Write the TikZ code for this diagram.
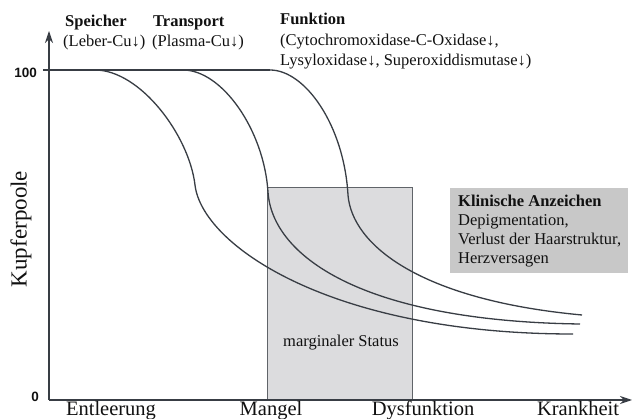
\documentclass[tikz,border=0pt]{standalone}
\usepackage{fontspec}
\setmainfont{Liberation Serif}
\newfontfamily\numfont{Liberation Sans}
\usetikzlibrary{arrows.meta}
\definecolor{ink}{HTML}{111111}
\definecolor{curve}{HTML}{383D44}
\definecolor{boxfill}{HTML}{DCDCDE}
\definecolor{clinfill}{HTML}{C8C8C8}
\begin{document}
\begin{tikzpicture}[x=1pt,y=-1pt,
  txt/.style={font=\fontsize{16.5}{20}\selectfont, inner sep=0pt, text=ink, anchor=base west},
  txtb/.style={txt, font=\fontsize{16.5}{20}\selectfont\bfseries},
  axislbl/.style={font=\fontsize{20.5}{24}\selectfont, inner sep=0pt, text=ink, anchor=base},
  ticklbl/.style={font=\fontsize{13.5}{16}\selectfont\numfont\bfseries, inner sep=0pt, text=ink, anchor=base east},
  axisline/.style={draw=curve, line width=1.2pt},
  curveline/.style={draw=curve, line width=1.3pt},
]
\useasboundingbox (0,0) rectangle (632,419);
\fill[white] (0,0) rectangle (632,419);

% shaded region of the marginal status
\node[draw=curve!80, line width=0.8pt, fill=boxfill, minimum width=145pt, minimum height=213pt,
      inner sep=0pt, anchor=north west] (marg) at (267,187) {};
\node[txt, anchor=base] (margtxt) at (341,347) {marginaler Status};

% box with clinical signs
\node[fill=clinfill, minimum width=178pt, minimum height=85pt, inner sep=0pt, anchor=north west] (clin) at (450,188) {};
\node[txtb] (clin1) at (458,206.5) {Klinische Anzeichen};
\node[txt]  (clin2) at (458,225.5) {Depigmentation,};
\node[txt]  (clin3) at (458,244.5) {Verlust der Haarstruktur,};
\node[txt]  (clin4) at (458,263.5) {Herzversagen};

% axes
\coordinate (origin) at (49,400);
\coordinate (ytip) at (49,31);
\coordinate (xtip) at (632,400);
\coordinate (full) at (43,70);
\draw[axisline, -{Stealth[length=12pt,width=8pt]}] (origin) -- (ytip);
\draw[axisline, -{Stealth[length=12pt,width=8pt]}] (origin) -- (xtip);
\draw[axisline] (full) -- (270,70);

\node[ticklbl] (t100) at (37,78) {100};
\node[ticklbl] (t0) at (39,402) {0};
\node[font=\fontsize{23}{25}\selectfont, text=ink, rotate=90, inner sep=0pt] (ylab) at (21,229) {Kupferpoole};

\node[axislbl] (x1) at (111,416) {Entleerung};
\node[axislbl] (x2) at (271,416) {Mangel};
\node[axislbl] (x3) at (423,416) {Dysfunktion};
\node[axislbl] (x4) at (578,416) {Krankheit};

% depletion curves of the three copper pools
\draw[curveline] (95,70) .. controls (140,70) and (189,135) .. (195,185)
                 .. controls (202,245) and (330,334) .. (573,334);
\draw[curveline] (183,70) .. controls (222,70) and (264,130) .. (268,192)
                 .. controls (272,255) and (360,321) .. (580,324);
\draw[curveline] (270,70) .. controls (305,70) and (344,125) .. (348,195)
                 .. controls (352,245) and (420,300) .. (582,315);

% pool headings
\node[txtb] (h1) at (65,27) {Speicher};
\node[txt]  (h1b) at (63,47) {(Leber-Cu↓)};
\node[txtb] (h2) at (153,27) {Transport};
\node[txt]  (h2b) at (152,47) {(Plasma-Cu↓)};
\node[txtb] (h3) at (280,25) {Funktion};
\node[txt]  (h3b) at (280,46) {(Cytochromoxidase-C-Oxidase↓,};
\node[txt]  (h3c) at (280,66) {Lysyloxidase↓, Superoxiddismutase↓)};
\end{tikzpicture}
\end{document}
